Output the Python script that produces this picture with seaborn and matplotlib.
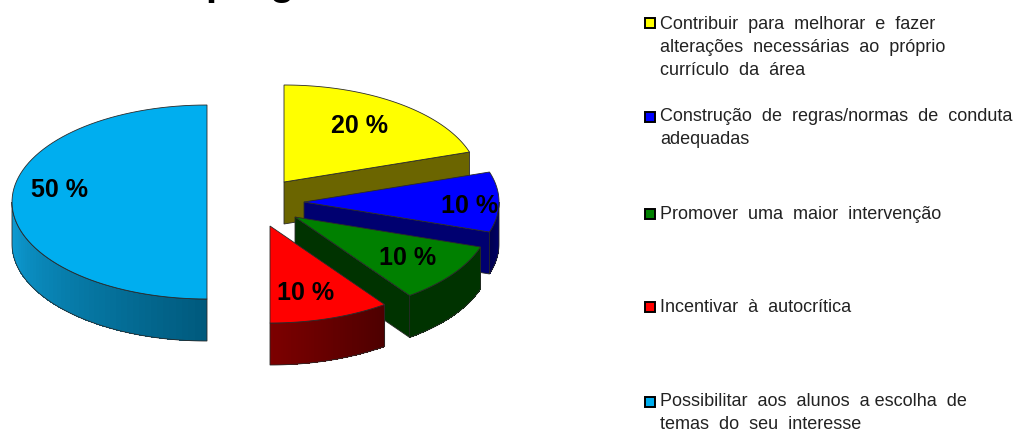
import numpy as np
import matplotlib
matplotlib.use("Agg")
import matplotlib.pyplot as plt
from matplotlib.colors import to_rgb
from matplotlib.patches import Polygon, Rectangle
import seaborn as sns

# ---- data ----
categories = [
    "Contribuir  para  melhorar  e  fazer\nalterações  necessárias  ao  próprio\ncurrículo  da  área",
    "Construção  de  regras/normas  de  conduta\nadequadas",
    "Promover  uma  maior  intervenção",
    "Incentivar  à  autocrítica",
    "Possibilitar  aos  alunos  a escolha  de\ntemas  do  seu  interesse",
]
values = [20, 10, 10, 10, 50]

# ---- style and layout ----
top_colors = ["#FFFF00", "#0000FF", "#008000", "#FF0000", "#00AEEF"]
wall_colors = ["#6B6500", "#000070", "#003300", "#600000", "#006080"]
rim_from = ["#6B6500", "#000075", "#003300", "#4C0000", "#00597C"]
rim_to = ["#6B6500", "#000050", "#003300", "#7C0000", "#0E9FD8"]
centers = [(284, 182), (304, 202), (295, 217), (270, 226), (207, 202)]
label_xy = [(360, 126), (470, 206), (408, 258), (306, 293), (60, 190)]
legend_y = [16, 108, 206, 299, 393]
marker_y = [23, 117, 214, 307, 402]
RX, RY, DEPTH = 195, 97, 42

sns.set_theme(style="white")
palette = sns.color_palette(top_colors)

fig = plt.figure(figsize=(10.19, 4.33), dpi=100)
ax = fig.add_axes([0, 0, 1, 1])
ax.set_xlim(0, 1019)
ax.set_ylim(433, 0)
ax.axis("off")

EDGE = dict(edgecolor="#2a2a2a", linewidth=0.6)


def pt(c, a):
    return c[0] + RX * np.sin(a), c[1] - RY * np.cos(a)


def arc(c, a, b, n=80):
    t = np.linspace(a, b, n)
    return np.column_stack([c[0] + RX * np.sin(t), c[1] - RY * np.cos(t)])


# order of drawing: back slice first
starts = np.cumsum([0] + values[:-1]) / sum(values) * 2 * np.pi
ends = np.cumsum(values) / sum(values) * 2 * np.pi
order = [4, 0, 1, 2, 3]
z = 2
for i in order:
    a, b, c = starts[i], ends[i], centers[i]
    # cut face
    if b < np.pi - 1e-6:
        ex, ey = pt(c, b)
        ax.add_patch(Polygon([c, (ex, ey), (ex, ey + DEPTH), (c[0], c[1] + DEPTH)],
                             closed=True, facecolor=wall_colors[i], zorder=z, **EDGE))
    # outer rim with its gradient
    lo, hi = max(a, np.pi / 2), min(b, 3 * np.pi / 2)
    if hi > lo:
        n = 48
        edges = np.linspace(lo, hi, n + 1)
        c0, c1 = np.array(to_rgb(rim_from[i])), np.array(to_rgb(rim_to[i]))
        for k in range(n):
            s = arc(c, edges[k], edges[k + 1], 5)
            poly = np.vstack([s, (s + [0, DEPTH])[::-1]])
            f = (k + 0.5) / n
            ax.add_patch(Polygon(poly, closed=True, facecolor=c0 + (c1 - c0) * f,
                                 edgecolor="none", antialiased=False, zorder=z))
        s = arc(c, lo, hi)
        outline = np.vstack([s, (s + [0, DEPTH])[::-1]])
        ax.add_patch(Polygon(outline, closed=True, facecolor="none", zorder=z + 0.1, **EDGE))
    # top face
    top = np.vstack([[c], arc(c, a, b)])
    ax.add_patch(Polygon(top, closed=True, facecolor=palette[i], zorder=z + 0.2, **EDGE))
    z += 1

for v, (x, y) in zip(values, label_xy):
    ax.text(x, y, f"{v} %", ha="center", va="center", color="black", fontsize=18,
            fontweight="bold", family="Liberation Sans", zorder=20)

# legend
for lab, col, ty, my in zip(categories, top_colors, legend_y, marker_y):
    ax.add_patch(Rectangle((645, my - 5), 10, 10, facecolor=col, edgecolor="black",
                           linewidth=1.4, zorder=10))
    ax.text(660, ty, lab, ha="left", va="top", color="#222222", fontsize=13,
            family="Liberation Sans", linespacing=1.48, zorder=10)

# remains of the title cut off by the picture's top edge
for ch, x in zip("pg", (205, 269)):
    ax.text(x, -5, ch, ha="left", va="baseline", color="black", fontsize=29,
            fontweight="bold", family="Liberation Sans", clip_on=False)

fig.savefig("out.png", dpi=100, facecolor="white")
